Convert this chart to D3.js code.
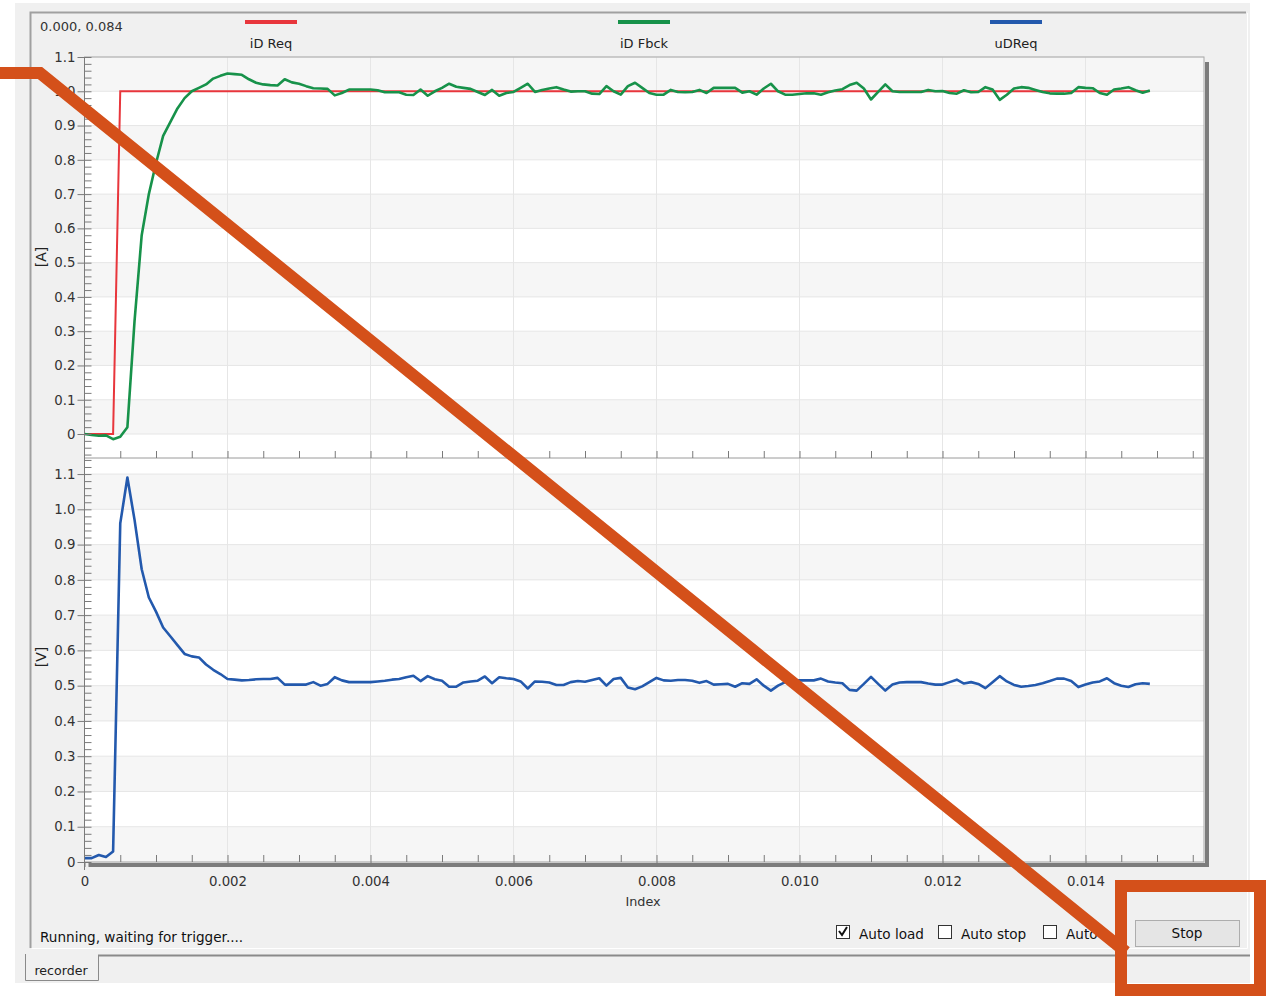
<!DOCTYPE html>
<html>
<head>
<meta charset="utf-8">
<script src="https://cdn.jsdelivr.net/npm/d3@7"></script>
<style>
body { margin: 0; background: #fff; }
svg { display: block; font-family: "DejaVu Sans", Arial, sans-serif; }
</style>
</head>
<body>
<div id="chart"></div>
<script>
// sample spacing of the recorder (s)
const SAMPLE_DT = 0.0001

// iD Req is a step, kept as break points
const reqTime = [0, 0.0004, 0.0005, 0.0149]
const reqValue = [0, 0, 1.0, 1.0]

// iD Fbck [A], one value per sample
const fbckValue = [
  0.0, -0.003, -0.005, -0.004, -0.015, -0.008, 0.02, 0.33, 0.58, 0.70,
  0.79, 0.87, 0.91, 0.95, 0.98, 1.0, 1.01, 1.02, 1.037, 1.045,
  1.052, 1.05, 1.048, 1.035, 1.025, 1.02, 1.018, 1.017, 1.035, 1.026,
  1.022, 1.015, 1.009, 1.008, 1.007, 0.988, 0.995, 1.005, 1.005, 1.005,
  1.005, 1.003, 0.997, 0.997, 0.997, 0.99, 0.989, 1.005, 0.987, 1.0,
  1.01, 1.022, 1.013, 1.01, 1.007, 0.998, 0.989, 1.004, 0.987, 0.995,
  0.998, 1.01, 1.022, 0.998, 1.004, 1.008, 1.012, 1.005, 0.999, 1.0,
  1.0, 0.993, 0.992, 1.015, 1.0, 0.99, 1.015, 1.025, 1.01, 0.995,
  0.99, 0.99, 1.004, 0.998, 0.997, 0.998, 1.004, 0.995, 1.01, 1.01,
  1.01, 1.01, 0.996, 1.0, 0.99, 1.008, 1.022, 1.0, 0.99, 0.99,
  0.992, 0.994, 0.994, 0.99, 0.997, 1.002, 1.006, 1.018, 1.025, 1.008,
  0.976, 0.998, 1.02, 1.0, 0.998, 0.998, 0.998, 0.998, 1.004, 1.0,
  1.001, 0.995, 0.993, 1.003, 0.997, 0.998, 1.012, 1.005, 0.975, 0.99,
  1.008, 1.012, 1.01, 1.004, 0.998, 0.994, 0.993, 0.993, 0.995, 1.012,
  1.01, 1.009, 0.995, 0.99, 1.005, 1.008, 1.012, 1.003, 0.996, 1.002
]

// uDReq [V], one value per sample
const udreqValue = [
  0.011, 0.011, 0.02, 0.014, 0.03, 0.96, 1.09, 0.97, 0.83, 0.75,
  0.71, 0.665, 0.64, 0.615, 0.59, 0.583, 0.58, 0.56, 0.545, 0.533,
  0.519, 0.517, 0.515, 0.516, 0.518, 0.519, 0.519, 0.522, 0.503, 0.503,
  0.503, 0.503, 0.51, 0.50, 0.505, 0.524, 0.515, 0.51, 0.51, 0.51,
  0.51, 0.512, 0.514, 0.517, 0.519, 0.524, 0.528, 0.513, 0.527, 0.518,
  0.514, 0.497, 0.497, 0.509, 0.512, 0.514, 0.526, 0.507, 0.524, 0.521,
  0.519, 0.512, 0.492, 0.512, 0.511, 0.509, 0.502, 0.502, 0.51, 0.513,
  0.511, 0.516, 0.521, 0.50, 0.519, 0.522, 0.495, 0.49, 0.498, 0.51,
  0.522, 0.515, 0.514, 0.516, 0.516, 0.514, 0.508, 0.513, 0.503, 0.504,
  0.505, 0.497, 0.507, 0.505, 0.518, 0.5, 0.486, 0.5, 0.51, 0.513,
  0.515, 0.515, 0.515, 0.52, 0.512, 0.509, 0.507, 0.488, 0.486, 0.505,
  0.525, 0.505, 0.486, 0.503, 0.509, 0.51, 0.51, 0.51, 0.506, 0.503,
  0.503, 0.51, 0.517, 0.506, 0.51, 0.505, 0.493, 0.51, 0.527, 0.512,
  0.502, 0.497, 0.499, 0.502, 0.507, 0.513, 0.52, 0.52, 0.513, 0.496,
  0.503, 0.509, 0.512, 0.521, 0.507, 0.5, 0.496, 0.504, 0.507, 0.505
]

const xTicks = [0, 0.002, 0.004, 0.006, 0.008, 0.010, 0.012, 0.014]
const yTicks = [0, 0.1, 0.2, 0.3, 0.4, 0.5, 0.6, 0.7, 0.8, 0.9, 1.0, 1.1]
const seriesNames = ["iD Req", "iD Fbck", "uDReq"]
const seriesColors = ["#e8363c", "#17924a", "#2359ad"]

const W = 1266, H = 1000
const PLOT = { LEFT: 84.5, RIGHT: 1204, TOP: 57, MID: 458, BOTTOM: 862 }
const ORANGE = "#d4501a"
const FONT = 13.3

const svg = d3.select("#chart").append("svg")
  .attr("width", W).attr("height", H)

// window background
svg.append("rect").attr("x", 15).attr("y", 3).attr("width", 1235).attr("height", 980).attr("fill", "#f0f0f0")
// group frame
svg.append("path").attr("d", "M30.5,948 V12.5 H1246").attr("fill", "none").attr("stroke", "#a0a0a0").attr("stroke-width", 2)
svg.append("path").attr("d", "M31.5,948.5 H1247.5 V13").attr("fill", "none").attr("stroke", "#ffffff").attr("stroke-width", 1)

const x = d3.scaleLinear().domain([0, (PLOT.RIGHT - PLOT.LEFT) / 71500]).range([PLOT.LEFT, PLOT.RIGHT])
const yTop = d3.scaleLinear().domain([-0.07, 1.1]).range([PLOT.MID, PLOT.TOP])
const yBot = d3.scaleLinear().domain([0, 1.1455]).range([PLOT.BOTTOM, PLOT.MID])

const fbckData = fbckValue.map((v, i) => [i * SAMPLE_DT, v])
const udreqData = udreqValue.map((v, i) => [i * SAMPLE_DT, v])
const reqData = reqValue.map((v, i) => [reqTime[i], v])

function drawPlot(y, y0, y1, id) {
  const g = svg.append("g")
  g.append("rect").attr("x", PLOT.LEFT).attr("y", y0).attr("width", PLOT.RIGHT - PLOT.LEFT).attr("height", y1 - y0)
    .attr("fill", "#fff")
  // alternating bands
  yTicks.forEach((t, k) => {
    if (k % 2 !== 0) return
    const top = Math.max(y(t + 0.1), y0)
    g.append("rect").attr("x", PLOT.LEFT).attr("width", PLOT.RIGHT - PLOT.LEFT)
      .attr("y", top).attr("height", y(t) - top).attr("fill", "#f6f6f6")
  })
  // grid
  g.selectAll(".hg").data(yTicks).enter().append("line")
    .attr("x1", PLOT.LEFT).attr("x2", PLOT.RIGHT)
    .attr("y1", d => y(d)).attr("y2", d => y(d))
    .attr("stroke", "#e6e6e6")
  g.selectAll(".vg").data(xTicks.slice(1)).enter().append("line")
    .attr("x1", d => x(d)).attr("x2", d => x(d))
    .attr("y1", y0).attr("y2", y1)
    .attr("stroke", "#e6e6e6")
  svg.append("clipPath").attr("id", id).append("rect")
    .attr("x", PLOT.LEFT).attr("y", y0).attr("width", PLOT.RIGHT - PLOT.LEFT).attr("height", y1 - y0)
  return g
}

const gTop = drawPlot(yTop, PLOT.TOP, PLOT.MID, "clipTop")
const gBot = drawPlot(yBot, PLOT.MID, PLOT.BOTTOM, "clipBot")

const lineTop = d3.line().x(d => x(d[0])).y(d => yTop(d[1]))
const lineBot = d3.line().x(d => x(d[0])).y(d => yBot(d[1]))

svg.append("path").datum(reqData).attr("clip-path", "url(#clipTop)")
  .attr("d", lineTop).attr("fill", "none").attr("stroke", seriesColors[0]).attr("stroke-width", 2)
svg.append("path").datum(fbckData).attr("clip-path", "url(#clipTop)")
  .attr("d", lineTop).attr("fill", "none").attr("stroke", seriesColors[1]).attr("stroke-width", 2.6)
  .attr("stroke-linejoin", "round")
svg.append("path").datum(udreqData).attr("clip-path", "url(#clipBot)")
  .attr("d", lineBot).attr("fill", "none").attr("stroke", seriesColors[2]).attr("stroke-width", 2.6)
  .attr("stroke-linejoin", "round")

// plot borders and shadow
svg.append("rect").attr("x", PLOT.LEFT).attr("y", PLOT.TOP).attr("width", PLOT.RIGHT - PLOT.LEFT)
  .attr("height", PLOT.BOTTOM - PLOT.TOP).attr("fill", "none").attr("stroke", "#a8a8a8")
svg.append("line").attr("x1", PLOT.LEFT).attr("x2", PLOT.RIGHT).attr("y1", PLOT.MID).attr("y2", PLOT.MID)
  .attr("stroke", "#9a9a9a")
svg.append("path").attr("d", `M${PLOT.RIGHT + 3},${PLOT.TOP + 5} V${PLOT.BOTTOM + 3} H${PLOT.LEFT + 4}`)
  .attr("fill", "none").attr("stroke", "#7c7c7c").attr("stroke-width", 4)

// axes
function styleAxis(g) {
  g.select(".domain").remove()
  g.selectAll("line").attr("stroke", "#7a7a7a")
  g.selectAll("text").attr("fill", "#333").attr("font-size", FONT)
    .attr("font-family", "'DejaVu Sans', Arial, sans-serif")
}
const yFmt = d => d === 0 ? "0" : d3.format(".1f")(d)
const minorY = d3.range(-60, 1101, 20).map(d => d / 1000)

svg.append("g").attr("transform", `translate(${PLOT.LEFT},0)`)
  .call(d3.axisLeft(yTop).tickValues(yTicks).tickSize(7).tickPadding(2).tickFormat(yFmt)).call(styleAxis)
svg.append("g").attr("transform", `translate(${PLOT.LEFT},0)`)
  .call(d3.axisRight(yTop).tickValues(minorY.filter(d => d > -0.07)).tickSize(7).tickFormat("")).call(styleAxis)
svg.append("g").attr("transform", `translate(${PLOT.LEFT},0)`)
  .call(d3.axisLeft(yBot).tickValues(yTicks).tickSize(7).tickPadding(2).tickFormat(yFmt)).call(styleAxis)
svg.append("g").attr("transform", `translate(${PLOT.LEFT},0)`)
  .call(d3.axisRight(yBot).tickValues(minorY.filter(d => d >= 0).concat([1.12, 1.14])).tickSize(7).tickFormat("")).call(styleAxis)
svg.append("line").attr("x1", PLOT.LEFT).attr("x2", PLOT.LEFT).attr("y1", PLOT.TOP).attr("y2", PLOT.BOTTOM + 8)
  .attr("stroke", "#7a7a7a")

const minorX = d3.range(5, 157, 5).map(d => d / 10000)
svg.append("g").attr("transform", `translate(0,${PLOT.BOTTOM})`)
  .call(d3.axisBottom(x).tickValues(xTicks).tickSize(5).tickPadding(10)
    .tickFormat(d => d === 0 ? "0" : d3.format(".3f")(d))).call(styleAxis)
svg.append("g").attr("transform", `translate(0,${PLOT.BOTTOM})`)
  .call(d3.axisTop(x).tickValues(minorX).tickSize(7).tickFormat("")).call(styleAxis)
svg.append("g").attr("transform", `translate(0,${PLOT.MID})`)
  .call(d3.axisTop(x).tickValues(minorX).tickSize(7).tickFormat("")).call(styleAxis)

// axis titles
svg.append("text").attr("transform", "translate(46,257) rotate(-90)").attr("text-anchor", "middle")
  .attr("font-size", 14).attr("fill", "#222").text("[A]")
svg.append("text").attr("transform", "translate(46,657) rotate(-90)").attr("text-anchor", "middle")
  .attr("font-size", 14).attr("fill", "#222").text("[V]")
svg.append("text").attr("x", 643).attr("y", 906).attr("text-anchor", "middle")
  .attr("font-size", 12.8).attr("fill", "#333").text("Index")

// legend
const legendX = [271, 644, 1016]
seriesNames.forEach((name, i) => {
  svg.append("line").attr("x1", legendX[i] - 26).attr("x2", legendX[i] + 26).attr("y1", 22).attr("y2", 22)
    .attr("stroke", seriesColors[i]).attr("stroke-width", 4)
  svg.append("text").attr("x", legendX[i]).attr("y", 48).attr("text-anchor", "middle")
    .attr("font-size", 13).attr("fill", "#222").text(name)
})
svg.append("text").attr("x", 40).attr("y", 31).attr("font-size", 13).attr("fill", "#333").text("0.000, 0.084")

// status bar and controls
svg.append("text").attr("x", 40).attr("y", 942).attr("font-size", 13.6).attr("fill", "#111")
  .text("Running, waiting for trigger....")
const boxes = [{ x: 836, label: "Auto load", on: true }, { x: 938, label: "Auto stop", on: false }, { x: 1043, label: "Auto", on: false }]
boxes.forEach(b => {
  svg.append("rect").attr("x", b.x + 0.5).attr("y", 925.5).attr("width", 13).attr("height", 13)
    .attr("fill", "#fff").attr("stroke", "#333")
  if (b.on) {
    svg.append("path").attr("d", `M${b.x + 3},${931} L${b.x + 6},${935} L${b.x + 11},${927}`)
      .attr("fill", "none").attr("stroke", "#111").attr("stroke-width", 2)
  }
  svg.append("text").attr("x", b.x + 23).attr("y", 939).attr("font-size", 13.6).attr("fill", "#111").text(b.label)
})
svg.append("rect").attr("x", 1135.5).attr("y", 920.5).attr("width", 104).attr("height", 26)
  .attr("fill", "#e5e5e5").attr("stroke", "#adadad")
svg.append("text").attr("x", 1187).attr("y", 938).attr("text-anchor", "middle").attr("font-size", 13.6)
  .attr("fill", "#111").text("Stop")

// tab strip
svg.append("line").attr("x1", 98).attr("x2", 1250).attr("y1", 955.5).attr("y2", 955.5).attr("stroke", "#8a8a8a").attr("stroke-width", 2)
svg.append("path").attr("d", "M25.5,954 V980.5 H98.5 V955").attr("fill", "#f0f0f0").attr("stroke", "#8a8a8a")
svg.append("text").attr("x", 61).attr("y", 975).attr("text-anchor", "middle").attr("font-size", 12.6)
  .attr("fill", "#222").text("recorder")

// orange annotation on top
svg.append("path").attr("d", "M0,73 H40 L1126,952").attr("fill", "none").attr("stroke", ORANGE)
  .attr("stroke-width", 12).attr("stroke-linejoin", "miter")
svg.append("rect").attr("x", 1121).attr("y", 886).attr("width", 139).attr("height", 104)
  .attr("fill", "none").attr("stroke", ORANGE).attr("stroke-width", 12)
</script>
</body>
</html>
